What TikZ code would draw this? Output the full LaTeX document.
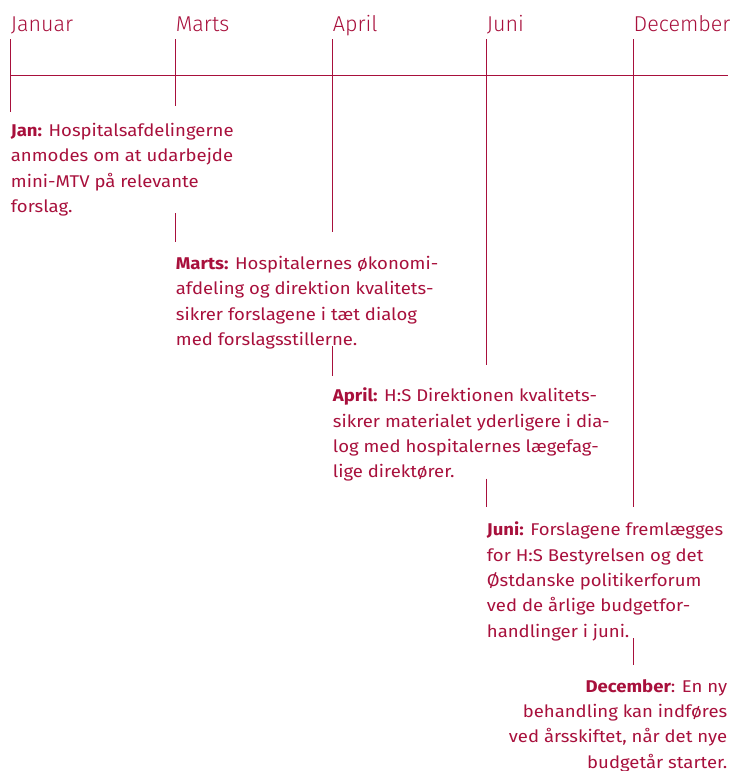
\documentclass[tikz,border=0pt]{standalone}
\usepackage{fontspec}
\setmainfont{Fira Sans}[BoldFont={Fira Sans Bold}, FakeStretch=1.09]
\newfontfamily\monthfont{Fira Sans Light}
\definecolor{hsred}{RGB}{168,16,60}
\tikzset{
	month/.style={anchor=base west, inner sep=0pt, text=hsred, font=\monthfont\fontsize{21.5}{24}\selectfont},
	desc/.style={anchor=north west, inner sep=0pt, text=hsred, align=left, font=\fontsize{17}{25.3}\selectfont},
	tick/.style={draw=hsred, line width=1.2pt},
}
\begin{document}
\begin{tikzpicture}[x=1pt,y=-1pt]
	\useasboundingbox (0,0) rectangle (733,771);

	% months on the time line
	\node[month] (jan)   at (10.7,31.5)  {Januar};
	\node[month] (marts) at (175.7,31.5) {Marts};
	\node[month] (april) at (332.7,31.5) {April};
	\node[month] (juni)  at (486.7,31.5) {Juni};
	\node[month] (dec)   at (633.5,31.5) {December};
	\coordinate (end) at (727.5,75.7);

	% what happens in each month
	\node[desc] (dJan)   at (10.7,123)  {\textbf{Jan:} Hospitalsafdelingerne\\anmodes om at udarbejde\\mini-MTV på relevante\\forslag.};
	\node[desc] (dMarts) at (175.7,256) {\textbf{Marts:} Hospitalernes økonomi-\\afdeling og direktion kvalitets-\\sikrer forslagene i tæt dialog\\med forslagsstillerne.};
	\node[desc] (dApril) at (332.7,388) {\textbf{April:} H:S Direktionen kvalitets-\\sikrer materialet yderligere i dia-\\log med hospitalernes lægefag-\\lige direktører.};
	\node[desc] (dJuni)  at (486.7,522) {\textbf{Juni:} Forslagene fremlægges\\for H:S Bestyrelsen og det\\Østdanske politikerforum\\ved de årlige budgetfor-\\handlinger i juni.};
	\node[desc, anchor=north east, align=right] (dDec) at (727.5,679) {\textbf{December}: En ny\\behandling kan indføres\\ved årsskiftet, når det nye\\budgetår starter.};

	\draw[tick] (jan.base west |- end) -- (end);

	\draw[tick, shorten <=7.5pt, shorten >=11pt] (jan.base west) -- (jan.base west |- dJan.north);
	\draw[tick, shorten <=7.5pt, shorten >=17pt] (marts.base west) -- (marts.base west |- dJan.north);
	\draw[tick, shorten <=-3pt, shorten >=14pt] (marts.base west |- dJan.south) -- (marts.base west |- dMarts.north);
	\draw[tick, shorten <=7.5pt, shorten >=24pt] (april.base west) -- (april.base west |- dMarts.north);
	\draw[tick, shorten <=-3pt, shorten >=12pt] (april.base west |- dMarts.south) -- (april.base west |- dApril.north);
	\draw[tick, shorten <=7.5pt, shorten >=23pt] (juni.base west) -- (juni.base west |- dApril.north);
	\draw[tick, shorten <=-3pt, shorten >=15pt] (juni.base west |- dApril.south) -- (juni.base west |- dJuni.north);
	\draw[tick, shorten <=7.5pt, shorten >=15pt] (dec.base west) -- (dec.base west |- dJuni.north);
	\draw[tick, shorten <=-3pt, shorten >=14pt] (dec.base west |- dJuni.south) -- (dec.base west |- dDec.north);
\end{tikzpicture}
\end{document}
